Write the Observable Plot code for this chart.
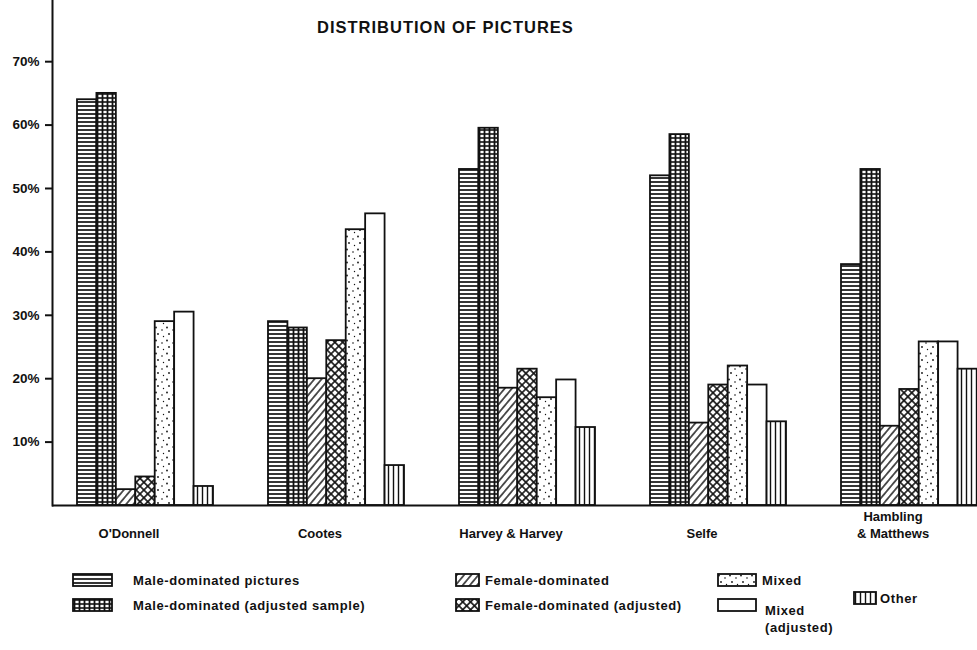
<!DOCTYPE html>
<html>
<head>
<meta charset="utf-8">
<script src="https://cdn.jsdelivr.net/npm/d3@7"></script>
<script src="https://cdn.jsdelivr.net/npm/@observablehq/plot@0.6"></script>
<style>
html, body { margin: 0; padding: 0; background: #fff; overflow: hidden; width: 977px; height: 650px; }
#wrap { position: relative; width: 977px; height: 650px; font-family: "Liberation Sans", Arial, sans-serif; color: #111; }
#title { position: absolute; top: 18px; left: 317px; font-size: 16.5px; font-weight: bold; letter-spacing: 1px; white-space: nowrap; }
#chart { position: absolute; top: 0; left: 0; }
#legend { position: absolute; top: 573px; left: 72px; display: grid;
  grid-template-columns: 383px 262px 136px auto; row-gap: 10px; font-size: 13px; font-weight: bold; letter-spacing: 0.6px; }
.item { display: flex; align-items: flex-start; white-space: nowrap; }
.item svg { flex: none; }
.item span { line-height: 15px; }
</style>
</head>
<body>
<div id="wrap">
  <div id="chart"></div>
  <div id="title">DISTRIBUTION OF PICTURES</div>
  <div id="legend"></div>
</div>
<script>
// ---- data ----
const groups = ["O'Donnell", "Cootes", "Harvey & Harvey", "Selfe", "Hambling & Matthews"];
const groupTickLabels = ["O'Donnell", "Cootes", "Harvey & Harvey", "Selfe", "Hambling\n& Matthews"];
const series = [
  "Male-dominated pictures",
  "Male-dominated (adjusted sample)",
  "Female-dominated",
  "Female-dominated (adjusted)",
  "Mixed",
  "Mixed (adjusted)",
  "Other"
];
const maleDominated         = [64,   29,   53,   52,   38];
const maleDominatedAdjusted = [65,   28,   59.5, 58.5, 53];
const femaleDominated       = [2.5,  20,   18.5, 13,   12.5];
const femaleDominatedAdj    = [4.5,  26,   21.5, 19,   18.3];
const mixed                 = [29,   43.5, 17,   22,   25.8];
const mixedAdjusted         = [30.5, 46,   19.8, 19,   25.8];
const other                 = [3,    6.3,  12.3, 13.2, 21.5];
const yTicks = [10, 20, 30, 40, 50, 60, 70];

const seriesValues = [maleDominated, maleDominatedAdjusted, femaleDominated, femaleDominatedAdj, mixed, mixedAdjusted, other];
const patternIds = ["pMale", "pMaleAdj", "pFemale", "pFemaleAdj", "pMixed", "pMixedAdj", "pOther"];
const patternUrls = patternIds.map(id => `url(#${id})`);

const rows = groups.flatMap((g, i) => series.map((s, j) => ({group: g, series: s, value: seriesValues[j][i]})));
const tickLabel = new Map(groups.map((g, i) => [g, groupTickLabels[i]]));

// ---- patterns (global defs) ----
const defsSvg = `
<svg width="0" height="0" style="position:absolute">
 <defs>
  <pattern id="pMale" patternUnits="userSpaceOnUse" width="8" height="4">
    <rect width="8" height="4" fill="#fff"/>
    <line x1="0" y1="2" x2="8" y2="2" stroke="#111" stroke-width="1.7"/>
  </pattern>
  <pattern id="pMaleAdj" patternUnits="userSpaceOnUse" width="5" height="4">
    <rect width="5" height="4" fill="#fff"/>
    <line x1="0" y1="2" x2="5" y2="2" stroke="#111" stroke-width="1.6"/>
    <line x1="2.5" y1="0" x2="2.5" y2="4" stroke="#111" stroke-width="1.8"/>
  </pattern>
  <pattern id="pFemale" patternUnits="userSpaceOnUse" width="5.5" height="5.5" patternTransform="rotate(40)">
    <rect width="5.5" height="5.5" fill="#fff"/>
    <line x1="2.75" y1="0" x2="2.75" y2="5.5" stroke="#111" stroke-width="1.4"/>
  </pattern>
  <pattern id="pFemaleAdj" patternUnits="userSpaceOnUse" width="5.5" height="5.5" patternTransform="rotate(45)">
    <rect width="5.5" height="5.5" fill="#fff"/>
    <line x1="2.75" y1="0" x2="2.75" y2="5.5" stroke="#111" stroke-width="1.6"/>
    <line x1="0" y1="2.75" x2="5.5" y2="2.75" stroke="#111" stroke-width="1.6"/>
  </pattern>
  <pattern id="pMixed" patternUnits="userSpaceOnUse" width="11" height="13">
    <rect width="11" height="13" fill="#fff"/>
    <circle cx="2" cy="2.5" r="0.9" fill="#111"/>
    <circle cx="8" cy="5" r="0.8" fill="#111"/>
    <circle cx="4" cy="9" r="0.9" fill="#111"/>
    <circle cx="9.5" cy="11.5" r="0.7" fill="#111"/>
  </pattern>
  <pattern id="pMixedAdj" patternUnits="userSpaceOnUse" width="4" height="4">
    <rect width="4" height="4" fill="#fff"/>
  </pattern>
  <pattern id="pOther" patternUnits="userSpaceOnUse" width="5" height="8">
    <rect width="5" height="8" fill="#fff"/>
    <line x1="2.5" y1="0" x2="2.5" y2="8" stroke="#111" stroke-width="1.4"/>
  </pattern>
 </defs>
</svg>`;
document.body.insertAdjacentHTML("afterbegin", defsSvg);

// ---- chart ----
const chart = Plot.plot({
  width: 977,
  height: 560,
  marginLeft: 52,
  marginRight: -30,
  marginTop: 0,
  marginBottom: 55,
  style: {fontFamily: '"Liberation Sans", Arial, sans-serif', background: "transparent", color: "#111"},
  fx: {domain: groups, paddingInner: 0, paddingOuter: 0, round: false, axis: null, label: null},
  x: {domain: series, paddingInner: 0, paddingOuter: 1.415, align: 0.4545, round: false, axis: null},
  y: {domain: [0, 79.65], axis: null},
  color: {domain: series, range: patternUrls},
  marks: [
    Plot.barY(rows, {fx: "group", x: "series", y: "value", fill: "series", stroke: "#111", strokeWidth: 1.8}),
    Plot.ruleY([0], {stroke: "#111", strokeWidth: 2}),
    Plot.frame({anchor: "left", facetAnchor: "left", stroke: "#111", strokeWidth: 2}),
    Plot.axisY({ticks: yTicks, tickFormat: d => d + "%", tickSize: 7, tickPadding: 6,
      fontSize: 13.5, fontWeight: "bold", strokeWidth: 2, label: null}),
    Plot.axisFx({anchor: "bottom", tickSize: 0, tickPadding: 32, lineAnchor: "bottom", lineHeight: 1.25,
      tickFormat: d => tickLabel.get(d), fontSize: 13, fontWeight: "bold", dx: -19, label: null,
      style: {letterSpacing: "0.4px"}})
  ]
});
document.getElementById("chart").appendChild(chart);

// ---- legend ----
const legendSpec = [
  {i: 0, col: 1, row: 1, sw: 41, gap: 20},
  {i: 1, col: 1, row: 2, sw: 41, gap: 20},
  {i: 2, col: 2, row: 1, sw: 25, gap: 5},
  {i: 3, col: 2, row: 2, sw: 25, gap: 5},
  {i: 4, col: 3, row: 1, sw: 40, gap: 5},
  {i: 5, col: 3, row: 2, sw: 40, gap: 8, text: "Mixed<br>(adjusted)"},
  {i: 6, col: 4, row: "1 / span 2", sw: 24, gap: 3}
];
const legend = document.getElementById("legend");
for (const L of legendSpec) {
  const div = document.createElement("div");
  div.className = "item";
  div.style.gridColumn = L.col;
  div.style.gridRow = L.row;
  if (L.i === 6) { div.style.alignSelf = "center"; div.style.marginTop = "-12px"; }
  const txt = L.text || series[L.i];
  const textStyle = L.i === 5 ? ' style="line-height:17px;margin-top:4px"' : "";
  div.innerHTML = `<svg width="${L.sw}" height="15" style="margin-right:${L.gap}px"><rect x="1" y="1" width="${L.sw - 2}" height="12" fill="${patternUrls[L.i]}" stroke="#111" stroke-width="1.8"/></svg><span${textStyle}>${txt}</span>`;
  legend.appendChild(div);
}
</script>
</body>
</html>
